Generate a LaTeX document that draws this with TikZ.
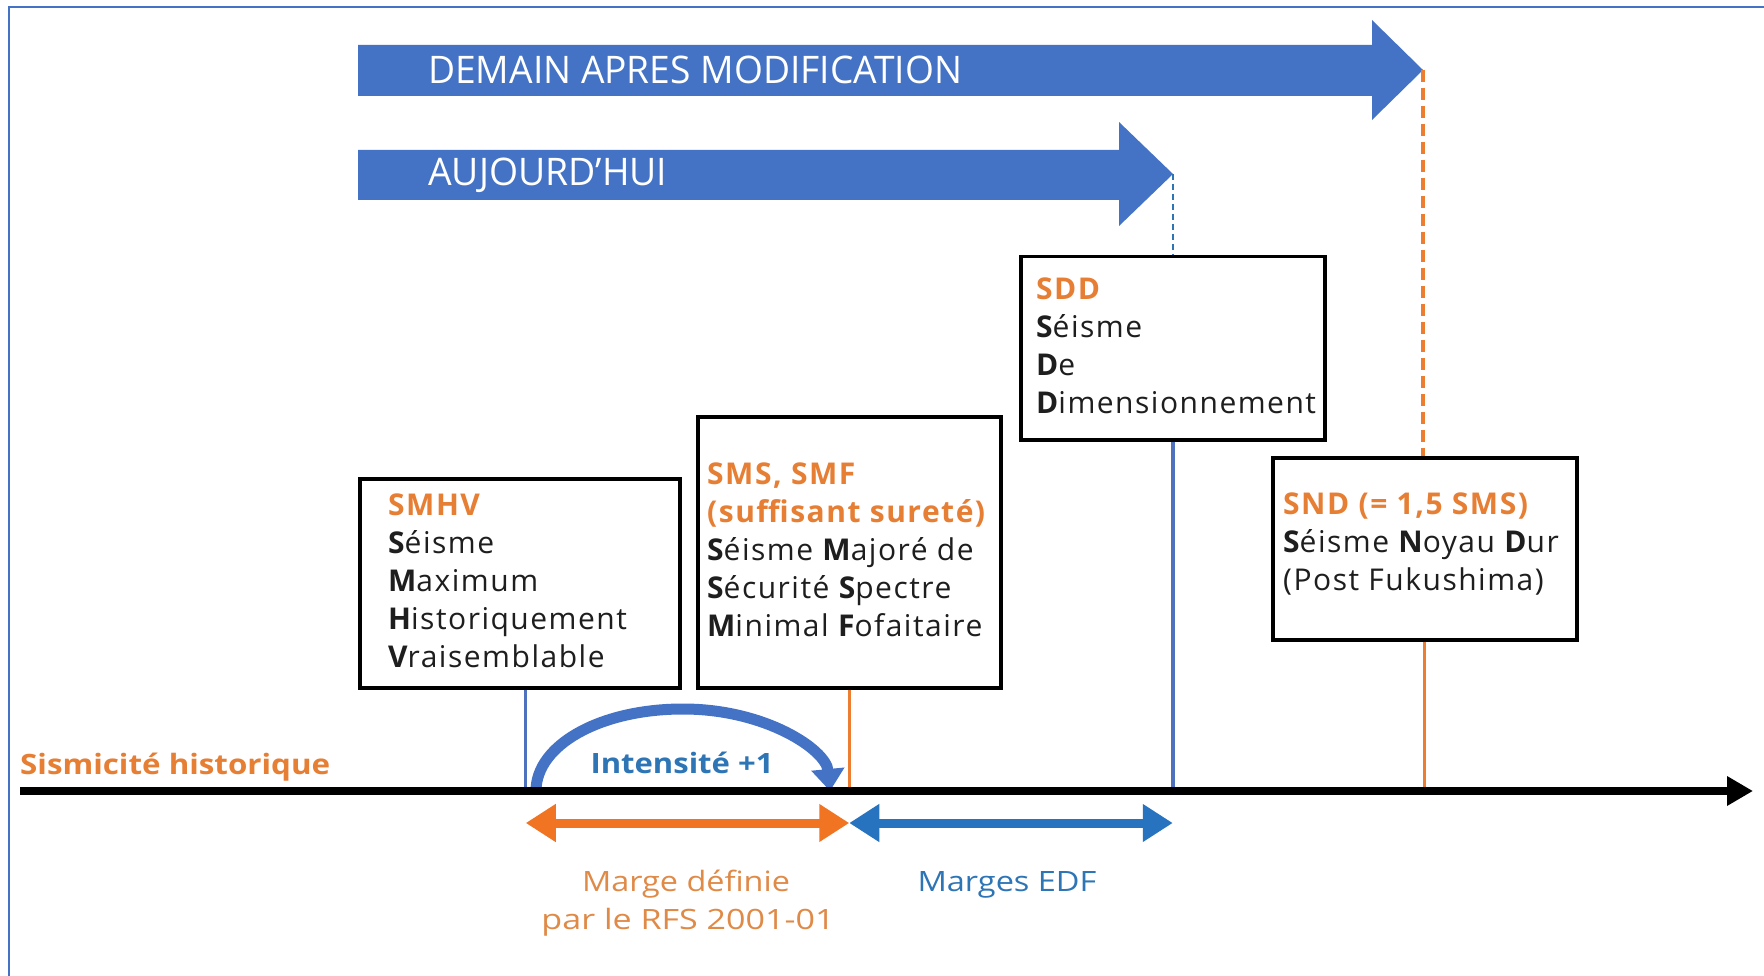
\documentclass[tikz,border=0pt]{standalone}
\usepackage{graphicx}
\usepackage{fontspec}
\setmainfont{Open Sans}
\newfontfamily\boxfont{Open Sans}[LetterSpace=5]
\usetikzlibrary{arrows.meta}
\definecolor{arrowblue}{HTML}{4472C4}
\definecolor{vblue}{HTML}{4F72BE}
\definecolor{dashblue}{HTML}{2E75B6}
\definecolor{orangeln}{HTML}{ED7D31}
\definecolor{orangetxt}{HTML}{E67E33}
\definecolor{orangelight}{HTML}{E08A48}
\definecolor{orangearr}{HTML}{F07422}
\definecolor{bluearr}{HTML}{2773C0}
\definecolor{textblue}{HTML}{2E75B6}
\definecolor{textdark}{HTML}{1E1E1E}
\newcommand\initl[1]{{\bfseries #1}}
\newcommand\headl[1]{{\color{orangetxt}\bfseries #1}}
\begin{document}
\begin{tikzpicture}[x=1pt,y=-1pt,
  sbox/.style={draw=black, line width=3.5pt, fill=white, inner sep=0pt, anchor=north west},
  btext/.style={inner sep=0pt, align=left, anchor=north west, text=textdark, font=\boxfont\fontsize{30}{38}\selectfont},
  vconn/.style={line width=3pt},
  lbl/.style={inner sep=0pt}
]
\useasboundingbox (0,0) rectangle (1764,976);
\fill[white] (0,0) rectangle (1764,976);
\draw[arrowblue, line width=2.5pt] (9,976) -- (9,7) -- (1764,7);

% block arrows
\coordinate (demtip) at (1423,70);
\coordinate (aujtip) at (1173,174);
\fill[arrowblue] (358,45) -- (1372,45) -- (1372,20) -- (demtip) -- (1372,120) -- (1372,96) -- (358,96) -- cycle;
\fill[arrowblue] (358,150) -- (1119,150) -- (1119,122) -- (aujtip) -- (1119,226) -- (1119,200) -- (358,200) -- cycle;
\node[lbl, anchor=west, text=white] (demain) at (428,70) {\resizebox{534pt}{\height}{\fontsize{38}{40}\selectfont DEMAIN APRES MODIFICATION}};
\node[lbl, anchor=west, text=white] (auj) at (428,175) {\resizebox{239pt}{\height}{\fontsize{38}{40}\selectfont AUJOURD'HUI}};

% boxes
\node[sbox, minimum width=320pt, minimum height=209pt] (smhv) at (358,477) {};
\node[sbox, minimum width=303pt, minimum height=271pt] (sms) at (696,415) {};
\node[sbox, minimum width=304pt, minimum height=183pt] (sdd) at (1019,255) {};
\node[sbox, minimum width=304pt, minimum height=182pt] (snd) at (1271,456) {};

\node[btext] (smhvt) at (388,494) {\headl{SMHV}\\\initl{S}éisme\\\initl{M}aximum\\\initl{H}istoriquement\\\initl{V}raisemblable};
\node[btext] (smst) at (707,463) {\headl{SMS, SMF}\\\headl{(suffisant sureté)}\\\initl{S}éisme \initl{M}ajoré de\\\initl{S}écurité \initl{S}pectre\\\initl{M}inimal \initl{F}ofaitaire};
\node[btext] (sddt) at (1036,278) {\headl{SDD}\\\initl{S}éisme\\\initl{D}e\\\initl{D}imensionnement};
\node[btext] (sndt) at (1283,493) {\headl{SND (= 1,5 SMS)}\\\initl{S}éisme \initl{N}oyau \initl{D}ur\\(Post Fukushima)};

% dashed links from arrow tips
\draw[dashblue, line width=2.5pt, dash pattern=on 6pt off 4pt] (aujtip) -- (aujtip |- sdd.north);
\draw[orangeln, line width=4pt, dash pattern=on 12pt off 6pt] (demtip) -- (demtip |- snd.north);

% axis
\coordinate (axL) at (20,791);
\coordinate (axR) at (1753,791);
\coordinate (p1) at ([xshift=6pt]smhv.south |- axL);
\coordinate (p2) at (sms.south |- axL);
\coordinate (p3) at (sdd.south |- axL);
\coordinate (p4) at (snd.south |- axL);
\draw[vblue, vconn] ([xshift=6pt]smhv.south) -- (p1);
\draw[orangeln, vconn] (sms.south) -- (p2);
\draw[vblue, line width=3.5pt] (sdd.south) -- (p3);
\draw[orangeln, vconn] (snd.south) -- (p4);

% intensity arc
\coordinate (arcA) at (536,791);
\coordinate (arcB) at (830,791);
\draw[arrowblue, line width=11pt, -{Triangle[length=22pt,width=32pt]}]
  (arcA) .. controls (536,745) and (600,709) .. (683,709)
         .. controls (766,709) and (826,750) .. (arcB);
\node[lbl, anchor=base] (intens) at (682,773) {\resizebox{183pt}{\height}{\color{textblue}\bfseries\fontsize{28}{30}\selectfont Intensité +1}};

\draw[line width=8pt, -{Triangle[length=26pt,width=28pt]}] (axL) -- (axR);
\node[lbl, anchor=base west] (sism) at (20,774) {\resizebox{310pt}{\height}{\color{orangetxt}\bfseries\fontsize{28}{30}\selectfont Sismicité historique}};

% margin arrows
\path (p1) ++(0,32) coordinate (m1);
\path (p2) ++(0,32) coordinate (m2);
\path (p3) ++(0,32) coordinate (m3);
\draw[orangearr, line width=9pt, {Triangle[length=30pt,width=36pt]}-{Triangle[length=30pt,width=36pt]}] (m1) -- (m2);
\draw[bluearr, line width=9pt, {Triangle[length=30pt,width=36pt]}-{Triangle[length=30pt,width=36pt]}] (m2) -- (m3);

\node[lbl, anchor=base] (marge1) at (686,891) {\resizebox{208pt}{\height}{\color{orangelight}\fontsize{28}{30}\selectfont Marge définie}};
\node[lbl, anchor=base] (marge2) at (688,929) {\resizebox{293pt}{\height}{\color{orangelight}\fontsize{28}{30}\selectfont par le RFS 2001-01}};
\node[lbl, anchor=base] (edf) at (1007,891) {\resizebox{179pt}{\height}{\color{textblue}\fontsize{28}{30}\selectfont Marges EDF}};
\end{tikzpicture}
\end{document}
